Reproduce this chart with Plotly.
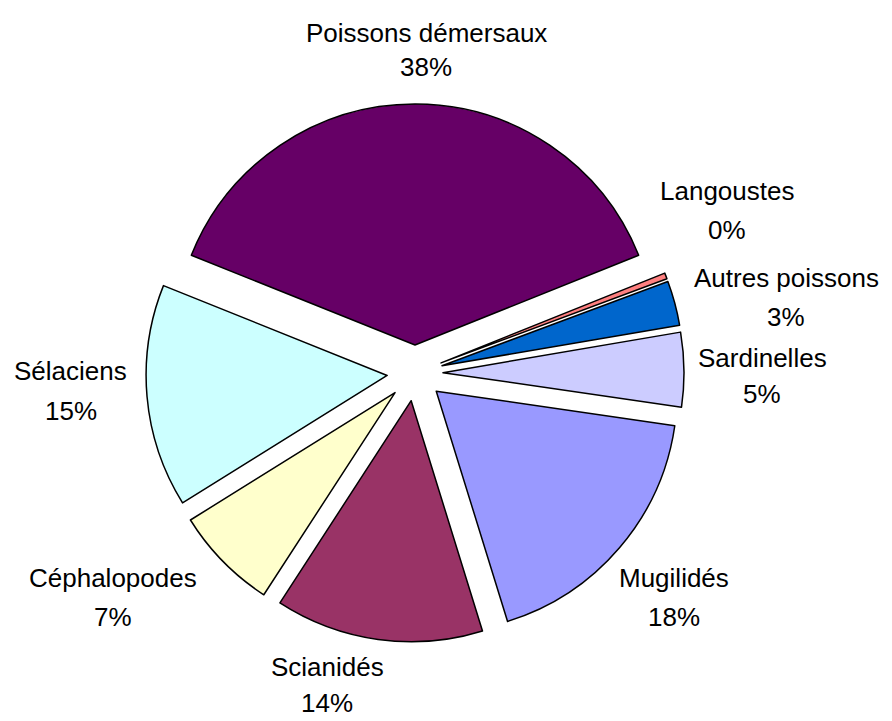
import plotly.graph_objects as go

# ---- data (Excel series order, drawn clockwise) ----
categories = ["Mugilidés", "Scianidés", "Céphalopodes", "Sélaciens",
              "Poissons démersaux", "Langoustes", "Autres poissons", "Sardinelles"]
values = [18, 14, 7, 15, 38, 0.4, 3, 5]
pct_labels = ["18%", "14%", "7%", "15%", "38%", "0%", "3%", "5%"]

# ---- styles / layout ----
colors = ["#9999FF", "#993366", "#FFFFCC", "#CCFFFF",
          "#660066", "#FF8080", "#0066CC", "#CCCCFF"]
W, H = 892, 721
OFF = 8                               # page body margin
CX, CY, BOX = 415 - OFF, 373 - OFF, 538   # pie centre and square domain size (px)
PULL = 0.116

# label centres in page px: (x, name line y, percent line y)
label_pos = {
    "Mugilidés": (674, 578, 617),
    "Scianidés": (327, 667, 703),
    "Céphalopodes": (113, 578, 617),
    "Sélaciens": (71, 371, 411),
    "Poissons démersaux": (426, 33, 67),
    "Langoustes": (727, 191, 230),
    "Autres poissons": (786, 278, 317),
    "Sardinelles": (762, 358, 394),
}

# rotate so that the largest slice is centred at 12 o'clock
total = sum(values)
i_pd = categories.index("Poissons démersaux")
before = sum(values[:i_pd])
rotation = -((before + values[i_pd] / 2) / total * 360)
while rotation < -360:
    rotation += 360

fig = go.Figure(go.Pie(
    labels=categories,
    values=values,
    sort=False,
    direction="clockwise",
    rotation=rotation,
    pull=[PULL] * len(values),
    marker=dict(colors=colors, line=dict(color="#000000", width=1.5)),
    textinfo="none",
    domain=dict(x=[(CX - BOX / 2) / W, (CX + BOX / 2) / W],
                y=[1 - (CY + BOX / 2) / H, 1 - (CY - BOX / 2) / H]),
    showlegend=False,
))

font = dict(family="Liberation Sans, Arial, sans-serif", size=26, color="#000000")
ann = []
for cat, pct in zip(categories, pct_labels):
    x, y1, y2 = label_pos[cat]
    for txt, yy in ((cat, y1), (pct, y2)):
        ann.append(dict(x=(x - OFF) / W, y=1 - (yy - OFF) / H,
                        xref="paper", yref="paper",
                        text=txt, showarrow=False, xanchor="center",
                        yanchor="middle", font=font))

fig.update_layout(
    width=W, height=H,
    margin=dict(l=0, r=0, t=0, b=0),
    paper_bgcolor="#FFFFFF", plot_bgcolor="#FFFFFF",
    annotations=ann,
)

fig.write_html("out.html")
